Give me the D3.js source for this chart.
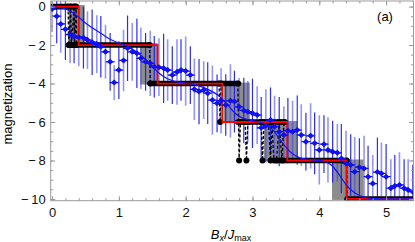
<!DOCTYPE html>
<html>
<head>
<meta charset="utf-8">
<script src="https://cdn.jsdelivr.net/npm/d3@7"></script>
<style>
body { margin: 0; background: #fff; }
text { font-family: "Liberation Sans", Arial, sans-serif; }
</style>
</head>
<body>
<script>
// tick labels
var xTicks = [0, 1, 2, 3, 4, 5];
var yTicks = [0, -2, -4, -6, -8, -10];

// gray uncertainty bands
var bandStart = [0.25, 1.32, 2.57, 3.17, 4.19];
var bandEnd = [0.49, 1.58, 2.96, 3.67, 4.66];
var bandTop = [0.08, -1.9, -3.95, -5.95, -7.95];
var bandBottom = [-2.08, -4.05, -6.05, -8.05, -10.05];

// black exact plateaus
var levelStart = [0, 0.25, 1.47, 2.78, 3.36, 4.42];
var levelEnd = [0.36, 1.46, 2.79, 3.49, 4.41, 5.45];
var levelValue = [0, -2, -4, -6, -8, -10];

// black dashed jumps between plateaus
var jumps = [
  [[0.24, 0], [0.25, -2], [0.28, 0], [0.29, -2], [0.33, 0], [0.34, -2], [0.36, 0], [0.37, -2]],
  [[1.46, -2], [1.47, -4]],
  [[2.50, -4], [2.515, -6], [2.53, -4]],
  [[2.78, -4], [2.80, -8], [2.82, -6], [2.89, -6], [2.91, -8], [2.93, -6]],
  [[3.13, -6], [3.15, -8], [3.17, -6]],
  [[3.24, -6], [3.27, -8], [3.29, -6], [3.32, -8], [3.36, -8], [3.40, -6], [3.44, -8], [3.47, -6]],
  [[4.41, -8], [4.42, -10]]
];

// red step line
var redX = [-0.05, 0.40, 0.40, 1.58, 1.58, 2.55, 2.55, 3.52, 3.52, 4.41, 4.41, 5.45];
var redM = [0, 0, -2, -2, -4, -4, -6, -6, -8, -8, -10, -10];

// smooth blue curve
var curveX = [0, 0.1, 0.2, 0.3, 0.4, 0.5, 0.6, 0.7, 0.8, 0.9, 1.0, 1.1, 1.2, 1.3, 1.4, 1.5, 1.6, 1.7, 1.8, 1.9,
  2.0, 2.1, 2.2, 2.3, 2.4, 2.5, 2.6, 2.7, 2.8, 2.9, 3.0, 3.1, 3.2, 3.3, 3.4, 3.5, 3.6, 3.7, 3.8, 3.9,
  4.0, 4.1, 4.2, 4.3, 4.4, 4.5, 4.6, 4.7, 4.8, 5.0, 5.4];
var curveM = [-0.02, -0.05, -0.12, -0.3, -0.55, -0.85, -1.1, -1.32, -1.55, -1.75, -1.9, -2.02, -2.2, -2.45, -2.75, -3.1, -3.45, -3.7, -3.85, -3.93,
  -3.98, -4.03, -4.12, -4.25, -4.42, -4.65, -5.0, -5.4, -5.7, -5.85, -5.93, -6.0, -6.12, -6.4, -6.85, -7.3, -7.65, -7.85, -7.93, -7.97,
  -8.0, -8.08, -8.3, -8.75, -9.25, -9.6, -9.82, -9.93, -9.97, -10.0, -10.0];

// blue estimates with error bars
var pointX = [0, 0.07, 0.13, 0.2, 0.27, 0.33, 0.4, 0.47, 0.53, 0.6, 0.67, 0.73, 0.8, 0.87, 0.93, 1.0, 1.07, 1.13, 1.2, 1.27,
  1.33, 1.4, 1.47, 1.53, 1.6, 1.67, 1.73, 1.8, 1.87, 1.93, 2.0, 2.07, 2.13, 2.2, 2.27, 2.33, 2.4, 2.47, 2.53, 2.6,
  2.67, 2.73, 2.8, 2.87, 2.93, 3.0, 3.07, 3.13, 3.2, 3.27, 3.33, 3.4, 3.47, 3.53, 3.6, 3.67, 3.73, 3.8, 3.87, 3.93,
  4.0, 4.07, 4.13, 4.2, 4.27, 4.33, 4.4, 4.47, 4.53, 4.6, 4.67, 4.73, 4.8, 4.87, 4.93, 5.0, 5.07, 5.13, 5.2, 5.27,
  5.33, 5.4];
var pointM = [-0.12, -0.5, -0.9, -1.18, -1.45, -1.55, -1.6, -1.62, -1.74, -1.85, -1.95, -2.09, -2.35, -2.87, -3.95, -3.3, -2.8, -2.17, -2.35, -2.43,
  -2.69, -2.87, -2.95, -3.13, -3.15, -3.21, -3.3, -3.56, -3.4, -3.3, -3.35, -3.56, -4.3, -4.42, -4.34, -4.5, -4.86, -5.03, -4.9, -5.12,
  -4.9, -4.94, -5.21, -5.4, -5.47, -5.55, -5.64, -6.3, -6.2, -5.9, -6.24, -6.5, -6.68, -6.45, -6.5, -6.42, -6.68, -7.02, -6.72, -7.11,
  -7.45, -7.15, -7.45, -7.54, -7.6, -7.9, -8.15, -8.23, -8.58, -8.35, -8.41, -8.84, -9.2, -8.6, -8.67, -8.84, -9.44, -9.32, -9.27, -9.44,
  -9.53, -9.62];
var pointErr = [1.2, 1.4, 1.5, 1.6, 1.5, 1.4, 1.5, 1.6, 1.5, 1.7, 1.5, 1.6, 1.4, 1.5, 0.9, 1.5, 1.6, 1.7, 1.5, 1.8,
  1.6, 1.5, 1.7, 1.6, 1.5, 1.8, 1.6, 1.5, 1.7, 1.6, 1.8, 1.5, 1.6, 1.7, 1.5, 1.6, 1.8, 1.5, 1.7, 1.6,
  1.9, 1.6, 1.5, 1.7, 1.6, 1.8, 1.5, 1.6, 1.9, 1.7, 1.6, 1.8, 1.5, 1.7, 1.6, 1.8, 1.6, 1.5, 1.7, 1.6,
  1.8, 1.5, 1.7, 1.6, 1.5, 1.8, 1.7, 1.6, 1.8, 1.5, 1.7, 1.6, 1.5, 1.8, 1.6, 1.7, 1.5, 1.6, 1.7, 1.5,
  1.6, 1.4];

var width = 415, height = 242;
var plot = {left: 50.7, right: 413.5, top: 1, bottom: 200.7};

var svg = d3.select("body").append("svg")
    .attr("width", width)
    .attr("height", height);

var x = d3.scaleLinear().domain([-0.02, 5.41]).range([plot.left, plot.right]);
var y = d3.scaleLinear().domain([-10.09, 0.29]).range([plot.bottom, plot.top]);

svg.append("clipPath").attr("id", "clip")
  .append("rect")
    .attr("x", plot.left).attr("y", plot.top)
    .attr("width", plot.right - plot.left)
    .attr("height", plot.bottom - plot.top);

var area = svg.append("g").attr("clip-path", "url(#clip)");

// gray bands
area.selectAll(".band").data(bandStart).enter().append("rect")
    .attr("class", "band")
    .attr("x", function (d) { return x(d); })
    .attr("width", function (d, i) { return x(bandEnd[i]) - x(d); })
    .attr("y", function (d, i) { return y(bandTop[i]); })
    .attr("height", function (d, i) { return y(bandBottom[i]) - y(bandTop[i]); })
    .attr("fill", "#8c8c8c");

// error bars
area.selectAll(".err").data(pointX).enter().append("line")
    .attr("class", "err")
    .attr("x1", function (d) { return x(d); })
    .attr("x2", function (d) { return x(d); })
    .attr("y1", function (d, i) { return y(pointM[i] + pointErr[i]); })
    .attr("y2", function (d, i) { return y(pointM[i] - pointErr[i]); })
    .attr("stroke", function (d, i) { return i % 2 ? "rgba(20,20,255,0.9)" : "rgba(60,60,255,0.55)"; })
    .attr("stroke-width", function (d, i) { return i % 2 ? 1.2 : 1.6; });

// black plateaus
area.selectAll(".level").data(levelStart).enter().append("line")
    .attr("class", "level")
    .attr("x1", function (d) { return x(d); })
    .attr("x2", function (d, i) { return x(levelEnd[i]); })
    .attr("y1", function (d, i) { return y(levelValue[i]); })
    .attr("y2", function (d, i) { return y(levelValue[i]); })
    .attr("stroke", "black")
    .attr("stroke-width", 5.6)
    .attr("stroke-linecap", "round");

var line = d3.line()
    .x(function (d) { return x(d[0]); })
    .y(function (d) { return y(d[1]); });

area.selectAll(".jump").data(jumps).enter().append("path")
    .attr("class", "jump")
    .attr("d", line)
    .attr("fill", "none")
    .attr("stroke", "black")
    .attr("stroke-width", 1.3)
    .attr("stroke-dasharray", "3,2");

area.selectAll(".jdot").data(d3.merge(jumps)).enter().append("circle")
    .attr("class", "jdot")
    .attr("cx", function (d) { return x(d[0]); })
    .attr("cy", function (d) { return y(d[1]); })
    .attr("r", 3)
    .attr("fill", "black");

// red step
area.append("path")
    .datum(redX.map(function (d, i) { return [d, redM[i]]; }))
    .attr("d", line)
    .attr("fill", "none")
    .attr("stroke", "#ff0000")
    .attr("stroke-width", 1.8);

// blue smooth curve
area.append("path")
    .datum(curveX.map(function (d, i) { return [d, curveM[i]]; }))
    .attr("d", line.curve(d3.curveMonotoneX))
    .attr("fill", "none")
    .attr("stroke", "#1414ff")
    .attr("stroke-width", 1.2);

// blue markers
var marks = area.selectAll(".mark").data(pointX).enter().append("g")
    .attr("class", "mark")
    .attr("transform", function (d, i) { return "translate(" + x(d) + "," + y(pointM[i]) + ")"; });
marks.append("line")
    .attr("x1", -4.5).attr("x2", 4.5)
    .attr("stroke", "#1010f0").attr("stroke-width", 1.3);
marks.append("path")
    .attr("d", "M-3.3,0L0,-3L3.3,0L0,3Z")
    .attr("fill", "#1010f0");

// axes
var axisColor = "#9a9a9a";
function styleAxis(g) {
    g.select(".domain").remove();
    g.selectAll(".tick line").attr("stroke", axisColor);
    g.selectAll("text").attr("font-size", 13).attr("fill", "#111");
}
var minorX = d3.range(0, 5.41, 0.2);
var minorY = d3.range(-10, 0.01, 0.5);
var fmt = function (d) { return d < 0 ? "\u2212\u2009" + Math.abs(d) : String(d); };

svg.append("g").attr("transform", "translate(0," + plot.bottom + ")")
    .call(d3.axisBottom(x).tickValues(minorX).tickSize(-2.5).tickFormat(""))
    .call(styleAxis);
svg.append("g").attr("transform", "translate(0," + plot.bottom + ")")
    .call(d3.axisBottom(x).tickValues(xTicks).tickSize(-4.5).tickPadding(7.5).tickFormat(fmt))
    .call(styleAxis);
svg.append("g").attr("transform", "translate(0," + plot.top + ")")
    .call(d3.axisTop(x).tickValues(minorX).tickSize(-2.5).tickFormat(""))
    .call(styleAxis);
svg.append("g").attr("transform", "translate(0," + plot.top + ")")
    .call(d3.axisTop(x).tickValues(xTicks).tickSize(-4.5).tickFormat(""))
    .call(styleAxis);
svg.append("g").attr("transform", "translate(" + plot.left + ",0)")
    .call(d3.axisLeft(y).tickValues(minorY).tickSize(-2.5).tickFormat(""))
    .call(styleAxis);
svg.append("g").attr("transform", "translate(" + plot.left + ",0)")
    .call(d3.axisLeft(y).tickValues(yTicks).tickSize(-4.5).tickPadding(5).tickFormat(fmt))
    .call(styleAxis);
svg.append("g").attr("transform", "translate(" + plot.right + ",0)")
    .call(d3.axisRight(y).tickValues(minorY).tickSize(-2.5).tickFormat(""))
    .call(styleAxis);
svg.append("g").attr("transform", "translate(" + plot.right + ",0)")
    .call(d3.axisRight(y).tickValues(yTicks).tickSize(-4.5).tickFormat(""))
    .call(styleAxis);

svg.append("rect")
    .attr("x", plot.left).attr("y", plot.top)
    .attr("width", plot.right - plot.left)
    .attr("height", plot.bottom - plot.top)
    .attr("fill", "none")
    .attr("stroke", axisColor);

// labels
svg.append("text")
    .attr("transform", "translate(12,104) rotate(-90)")
    .attr("text-anchor", "middle")
    .attr("font-size", 13)
    .text("magnetization");

var xl = svg.append("text")
    .attr("x", 231).attr("y", 239)
    .attr("text-anchor", "middle")
    .attr("font-size", 13);
xl.append("tspan").attr("font-style", "italic").text("B");
xl.append("tspan").attr("font-style", "italic").attr("font-size", 9).attr("dy", 2).text("x");
xl.append("tspan").attr("dy", -2).text("/");
xl.append("tspan").attr("font-style", "italic").text("J");
xl.append("tspan").attr("font-size", 9).attr("dy", 2).text("max");

svg.append("text")
    .attr("x", 385).attr("y", 21)
    .attr("text-anchor", "middle")
    .attr("font-size", 13)
    .text("(a)");
</script>
</body>
</html>
